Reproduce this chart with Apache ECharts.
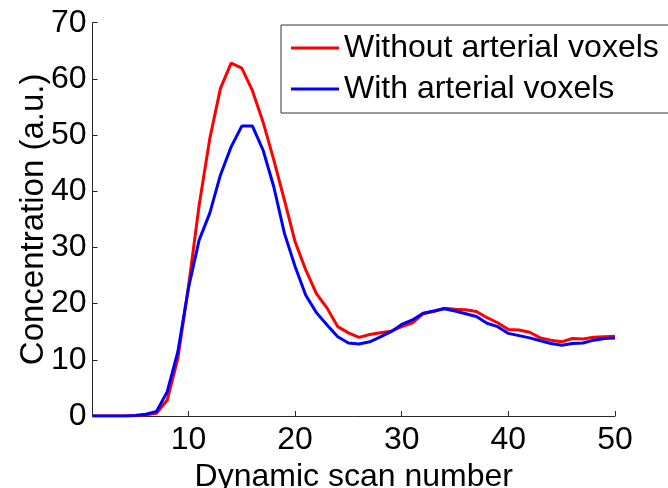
<!DOCTYPE html>
<html>
<head>
<meta charset="utf-8">
<script src="https://cdn.jsdelivr.net/npm/echarts@6/dist/echarts.min.js"></script>
<style>
html,body{margin:0;padding:0;background:#fff;}
#chart{width:668px;height:488px;}
</style>
</head>
<body>
<div id="chart"></div>
<script>
// Data
const scanNumbers = Array.from({length: 50}, (_, i) => i + 1);
const withoutArterial = [0,0,0,0,0.1,0.2,0.5,2.8,10.2,23.0,
  37.5,49.4,58.3,62.8,61.9,57.9,52.3,45.6,38.4,31.0,
  26.0,21.8,19.2,15.9,14.8,14.0,14.5,14.8,15.1,15.9,
  16.6,18.2,18.6,19.2,19.0,18.9,18.6,17.5,16.6,15.4,
  15.3,14.9,13.9,13.5,13.2,13.8,13.7,14.0,14.1,14.2];
const withArterial = [0,0,0,0,0.1,0.3,0.8,4.3,11.4,22.8,
  31.3,36.1,42.9,47.9,51.6,51.6,47.3,40.8,32.5,26.6,
  21.5,18.4,16.2,14.1,13.0,12.8,13.2,14.1,15.0,16.3,
  17.1,18.3,18.7,19.1,18.7,18.2,17.7,16.5,15.9,14.7,
  14.3,13.9,13.4,12.9,12.6,12.9,13.0,13.5,13.8,13.9];
const xTicks = [10,20,30,40,50];
const seriesNames = ['Without arterial voxels', 'With arterial voxels'];

const font = 'Liberation Sans, Arial, sans-serif';
const axisColor = '#262626';

const chart = echarts.init(document.getElementById('chart'), null, {renderer: 'canvas'});
chart.setOption({
  animation: false,
  backgroundColor: '#fff',
  grid: {left: 92.5, right: 53, top: 22.7, bottom: 72, containLabel: false, outerBoundsMode: 'none'},
  legend: {
    orient: 'vertical',
    left: 281, top: 25,
    padding: [6, 12, 7, 10],
    itemGap: 7,
    itemWidth: 48, itemHeight: 3,
    icon: 'rect',
    borderColor: '#333', borderWidth: 1,
    backgroundColor: '#fff',
    textStyle: {fontFamily: font, fontSize: 32, color: '#000', lineHeight: 34},
    data: seriesNames
  },
  xAxis: {
    type: 'value', min: 1, max: 50,
    name: 'Dynamic scan number', nameLocation: 'middle', nameGap: 45, nameMoveOverlap: false,
    nameTextStyle: {fontFamily: font, fontSize: 32, color: '#000'},
    axisLine: {show: true, lineStyle: {color: axisColor, width: 1}},
    axisTick: {show: true, inside: true, length: 5, customValues: xTicks, lineStyle: {color: axisColor}},
    axisLabel: {customValues: xTicks, fontFamily: font, fontSize: 32, color: '#000', margin: 8},
    splitLine: {show: false}
  },
  yAxis: {
    type: 'value', min: 0, max: 70, interval: 10,
    name: 'Concentration (a.u.)', nameLocation: 'middle', nameGap: 42, nameRotate: 90, nameMoveOverlap: false,
    nameTextStyle: {fontFamily: font, fontSize: 33, color: '#000'},
    axisLine: {show: true, lineStyle: {color: axisColor, width: 1}},
    axisTick: {show: true, inside: true, length: 5, lineStyle: {color: axisColor}},
    axisLabel: {fontFamily: font, fontSize: 32, color: '#000', margin: 6},
    splitLine: {show: false}
  },
  series: [
    {name: seriesNames[0], type: 'line', showSymbol: false, symbol: 'none',
     color: '#ff0000', lineStyle: {width: 3, color: '#ff0000'},
     data: scanNumbers.map((x, i) => [x, withoutArterial[i]])},
    {name: seriesNames[1], type: 'line', showSymbol: false, symbol: 'none',
     color: '#0000ff', lineStyle: {width: 3, color: '#0000ff'},
     data: scanNumbers.map((x, i) => [x, withArterial[i]])}
  ]
});
</script>
</body>
</html>
